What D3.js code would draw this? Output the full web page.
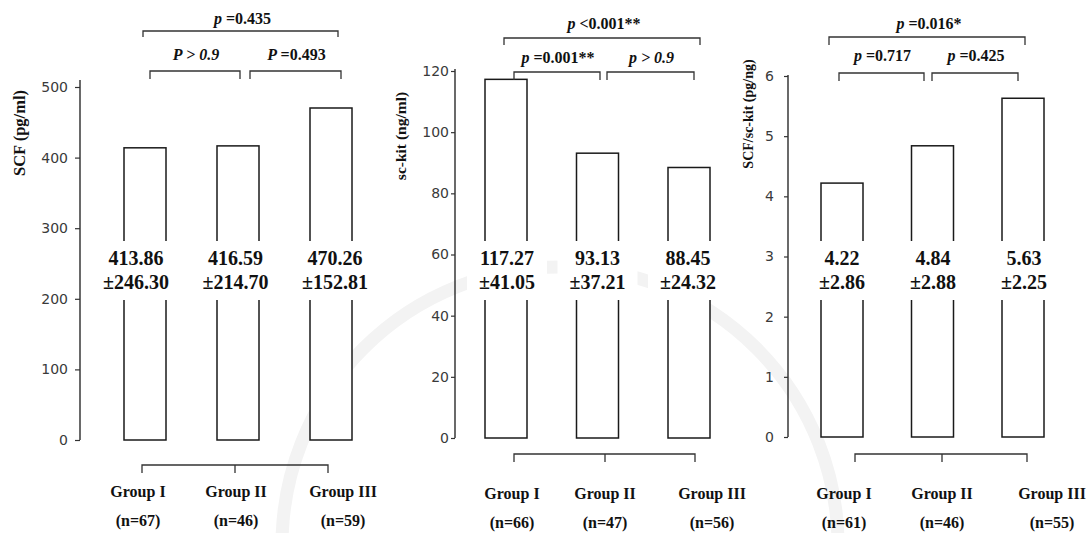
<!DOCTYPE html>
<html>
<head>
<meta charset="utf-8">
<script src="https://cdn.jsdelivr.net/npm/d3@7"></script>
<style>
  html, body { margin: 0; padding: 0; background: #fff; }
  svg { display: block; }
  .serif { font-family: "Liberation Serif", "Times New Roman", serif; font-weight: bold; fill: #111; }
  .tick text { font-family: "DejaVu Sans", sans-serif; font-size: 14px; fill: #3a3a3a; }
</style>
</head>
<body>
<svg id="chart" width="1092" height="533"></svg>
<script>
// ---- data ----
const groups = ["Group I", "Group II", "Group III"];

const scfMean = [413.86, 416.59, 470.26];
const scfSd   = [246.30, 214.70, 152.81];
const scfN    = [67, 46, 59];
const scfTicks = [0, 100, 200, 300, 400, 500];
// [italic part, upright part]: I vs II, II vs III, I vs III
const scfP = [["P > 0.9", ""], ["P ", "=0.493"], ["p ", "=0.435"]];

const kitMean = [117.27, 93.13, 88.45];
const kitSd   = [41.05, 37.21, 24.32];
const kitN    = [66, 47, 56];
const kitTicks = [0, 20, 40, 60, 80, 100, 120];
const kitP = [["p ", "=0.001**"], ["p > 0.9", ""], ["p ", "<0.001**"]];

const ratioMean = [4.22, 4.84, 5.63];
const ratioSd   = [2.86, 2.88, 2.25];
const ratioN    = [61, 46, 55];
const ratioTicks = [0, 1, 2, 3, 4, 5, 6];
const ratioP = [["p ", "=0.717"], ["p ", "=0.425"], ["p ", "=0.016*"]];

const panels = [
  { mean: scfMean, sd: scfSd, n: scfN, ticks: scfTicks, max: 500, p: scfP, title: "SCF (pg/ml)" },
  { mean: kitMean, sd: kitSd, n: kitN, ticks: kitTicks, max: 120, p: kitP, title: "sc-kit (ng/ml)" },
  { mean: ratioMean, sd: ratioSd, n: ratioN, ticks: ratioTicks, max: 6, p: ratioP, title: "SCF/sc-kit (pg/ng)" }
];

// ---- layout for each panel ----
const layout = [
  { axisX: 80, yRange: [440, 87], axisTop: 80, tickPad: 7, tickLen: 5,
    bars: [145, 331], labels: [136, 335], groupX: [138, 236, 343], groupY: 491, nY: 520,
    titleX: 19, titleY: 133, titleSize: 16.5,
    bottom: { y: 465, x: [142, 235, 328] },
    small: { y: 71, drop: 8, spans: [[150, 240], [250, 341]], textY: 54 },
    big: { y: 31, drop: 6, span: [143, 338], textY: 18 } },
  { axisX: 455, yRange: [438, 71], axisTop: 69, tickPad: 2, tickLen: 4,
    bars: [506, 689], labels: [507, 688], groupX: [512, 605, 712], groupY: 493, nY: 522,
    titleX: 401, titleY: 136, titleSize: 15.5,
    bottom: { y: 454, x: [514, 605, 695] },
    small: { y: 72, drop: 8, spans: [[514, 600], [607, 694]], textY: 57 },
    big: { y: 38, drop: 7, span: [504, 700], textY: 23 } },
  { axisX: 788, yRange: [437, 76], axisTop: 75, tickPad: 10, tickLen: 4,
    bars: [842, 1023], labels: [842, 1024], groupX: [844, 942, 1052], groupY: 493, nY: 522,
    titleX: 748, titleY: 114, titleSize: 14,
    bottom: { y: 454, x: [855, 942, 1027] },
    small: { y: 73, drop: 8, spans: [[839, 924], [932, 1018]], textY: 55 },
    big: { y: 37, drop: 8, span: [829, 1025], textY: 23 } }
];

const svg = d3.select("#chart");

// faint emblem ring in the page background
svg.append("circle")
  .attr("cx", 560).attr("cy", 545).attr("r", 278)
  .attr("fill", "none").attr("stroke", "#f3f3f3").attr("stroke-width", 13);

const barWidth = 42;
const ink = "#1a1a1a";

function pText(g, x, y, parts, size) {
  const t = g.append("text").attr("class", "serif")
    .attr("x", x).attr("y", y).attr("dy", "0.35em")
    .attr("text-anchor", "middle").style("font-size", size + "px");
  t.append("tspan").style("font-style", "italic").text(parts[0]);
  if (parts[1]) t.append("tspan").text(parts[1]);
}

function bracket(g, x0, x1, y, drop, mids) {
  let d = `M${x0},${y + drop}V${y}H${x1}V${y + drop}`;
  (mids || []).forEach(m => { d += `M${m},${y}V${y + drop}`; });
  g.append("path").attr("d", d).attr("fill", "none")
    .attr("stroke", "#333").attr("stroke-width", 1.3);
}

panels.forEach((p, i) => {
  const L = layout[i];
  const g = svg.append("g");

  const y = d3.scaleLinear().domain([0, p.max]).range(L.yRange);
  const x = d3.scalePoint().domain(groups).range(L.bars);
  const xl = d3.scalePoint().domain(groups).range(L.labels);

  // y axis
  const axis = g.append("g").attr("transform", `translate(${L.axisX},0)`)
    .call(d3.axisLeft(y).tickValues(p.ticks).tickSize(L.tickLen)
      .tickSizeOuter(0).tickPadding(L.tickPad).tickFormat(d3.format("d")));
  axis.select(".domain").attr("d", `M0,${L.axisTop}V${y(0)}`)
    .attr("stroke", ink).attr("stroke-width", 1.3);
  axis.selectAll(".tick line").attr("stroke", "#333").attr("stroke-width", 1.2);

  // axis title
  g.append("text").attr("class", "serif")
    .attr("transform", `translate(${L.titleX},${L.titleY}) rotate(-90)`)
    .attr("text-anchor", "middle").attr("dy", "0.35em")
    .style("font-size", L.titleSize + "px").text(p.title);

  // bars
  g.selectAll("rect.bar").data(p.mean).join("rect").attr("class", "bar")
    .attr("x", (d, j) => x(groups[j]) - barWidth / 2)
    .attr("width", barWidth)
    .attr("y", d => y(d))
    .attr("height", d => y(0) - y(d))
    .attr("fill", "#fff").attr("stroke", ink).attr("stroke-width", 1.5);

  // mean ± SD labels on a white plate
  p.mean.forEach((m, j) => {
    const cx = xl(groups[j]);
    g.append("rect").attr("x", cx - 40).attr("y", 241).attr("width", 80).attr("height", 59)
      .attr("fill", "#fff");
    g.append("text").attr("class", "serif").attr("x", cx).attr("y", 258).attr("dy", "0.35em")
      .attr("text-anchor", "middle").style("font-size", "20px").text(m.toFixed(2));
    g.append("text").attr("class", "serif").attr("x", cx).attr("y", 281.5).attr("dy", "0.35em")
      .attr("text-anchor", "middle").style("font-size", "20px").text("±" + p.sd[j].toFixed(2));
  });

  // group bracket and group names
  bracket(g, L.bottom.x[0], L.bottom.x[2], L.bottom.y, 8, [L.bottom.x[1]]);
  groups.forEach((name, j) => {
    g.append("text").attr("class", "serif").attr("x", L.groupX[j]).attr("y", L.groupY)
      .attr("dy", "0.35em").attr("text-anchor", "middle").style("font-size", "16px").text(name);
    g.append("text").attr("class", "serif").attr("x", L.groupX[j]).attr("y", L.nY)
      .attr("dy", "0.35em").attr("text-anchor", "middle").style("font-size", "16px")
      .text(`(n=${p.n[j]})`);
  });

  // pairwise comparison brackets
  L.small.spans.forEach((s, j) => {
    bracket(g, s[0], s[1], L.small.y, L.small.drop);
    pText(g, (s[0] + s[1]) / 2 + 1, L.small.textY, p.p[j], 16);
  });
  bracket(g, L.big.span[0], L.big.span[1], L.big.y, L.big.drop);
  pText(g, (L.big.span[0] + L.big.span[1]) / 2 + 2, L.big.textY, p.p[2], 16);
});
</script>
</body>
</html>
